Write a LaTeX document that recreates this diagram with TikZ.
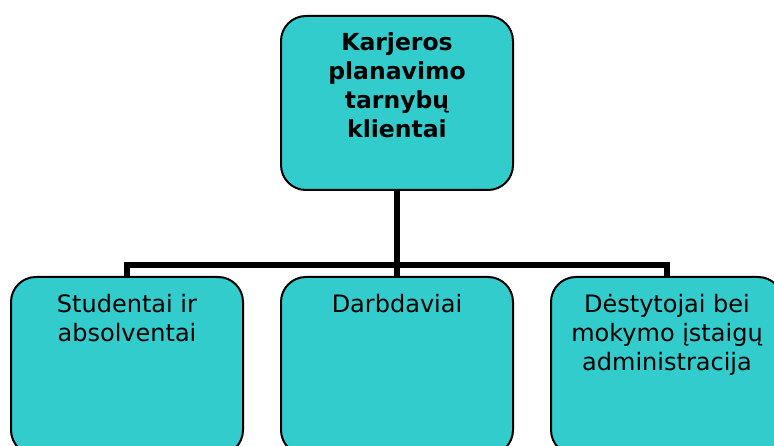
\documentclass[tikz,border=0pt]{standalone}
\usepackage{fontspec}
\setmainfont{DejaVu Sans}
\definecolor{boxfill}{HTML}{33CCCC}
\begin{document}
\begin{tikzpicture}[x=1pt,y=-1pt,
  box/.style={draw=black, line width=2pt, fill=boxfill, rounded corners=25pt, inner sep=0pt, minimum width=232pt},
  conn/.style={draw=black, line width=5.5pt, line join=miter},
  lbl/.style={anchor=north, inner sep=0pt, align=center, font=\fontsize{24}{29}\selectfont}]
\useasboundingbox (0,0) rectangle (774,446);
\node[box, minimum height=174pt] (top) at (397,103) {};
\node[box, minimum height=178pt] (b1) at (127,366) {};
\node[box, minimum height=178pt] (b2) at (397,366) {};
\node[box, minimum height=178pt] (b3) at (667,366) {};
\node[lbl, font=\fontsize{23.5}{29}\selectfont\bfseries] (ttop) at (397,32.5) {Karjeros\\planavimo\\tarnybų\\klientai};
\node[lbl] (t1) at (127,294) {Studentai ir\\absolventai};
\node[lbl] (t2) at (397,294) {Darbdaviai};
\node[lbl] (t3) at (667,294) {Dėstytojai bei\\mokymo įstaigų\\administracija};
\coordinate (bus) at (397,265);
\draw[conn] (top.south) -- (bus);
\draw[conn] (b1.north) -- (b1.north |- bus) -| (b3.north);
\draw[conn] (bus) -- (b2.north);
\end{tikzpicture}
\end{document}
